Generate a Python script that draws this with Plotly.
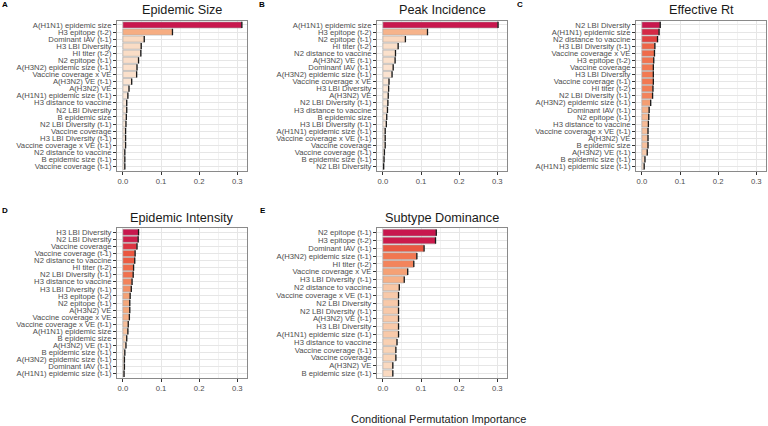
import plotly.graph_objects as go

# ---------------- data ----------------
a_names = ["A(H1N1) epidemic size", "H3 epitope (t-2)", "Dominant IAV (t-1)", "H3 LBI Diversity",
           "HI titer (t-2)", "N2 epitope (t-1)", "A(H3N2) epidemic size (t-1)", "Vaccine coverage x VE",
           "A(H3N2) VE (t-1)", "A(H3N2) VE", "A(H1N1) epidemic size (t-1)", "H3 distance to vaccine",
           "N2 LBI Diversity", "B epidemic size", "N2 LBI Diversity (t-1)", "Vaccine coverage",
           "H3 LBI Diversity (t-1)", "Vaccine coverage x VE (t-1)", "N2 distance to vaccine",
           "B epidemic size (t-1)", "Vaccine coverage (t-1)"]
a_vals = [0.312, 0.130, 0.056, 0.048, 0.047, 0.041, 0.037, 0.036, 0.023, 0.016, 0.013, 0.010,
          0.010, 0.009, 0.008, 0.007, 0.007, 0.007, 0.005, 0.005, 0.005]

b_names = ["A(H1N1) epidemic size", "H3 epitope (t-2)", "N2 epitope (t-1)", "HI titer (t-2)",
           "N2 distance to vaccine", "A(H3N2) VE (t-1)", "Dominant IAV (t-1)", "A(H3N2) epidemic size (t-1)",
           "Vaccine coverage x VE", "H3 LBI Diversity", "A(H3N2) VE", "N2 LBI Diversity (t-1)",
           "H3 distance to vaccine", "B epidemic size", "H3 LBI Diversity (t-1)", "A(H1N1) epidemic size (t-1)",
           "Vaccine coverage x VE (t-1)", "Vaccine coverage", "Vaccine coverage (t-1)",
           "B epidemic size (t-1)", "N2 LBI Diversity"]
b_vals = [0.302, 0.117, 0.059, 0.040, 0.033, 0.032, 0.027, 0.024, 0.016, 0.015, 0.014, 0.013,
          0.012, 0.010, 0.009, 0.006, 0.006, 0.006, 0.004, 0.003, 0.002]

c_names = ["N2 LBI Diversity", "A(H1N1) epidemic size", "N2 distance to vaccine", "H3 LBI Diversity (t-1)",
           "Vaccine coverage x VE", "H3 epitope (t-2)", "Vaccine coverage", "H3 LBI Diversity",
           "Vaccine coverage (t-1)", "HI titer (t-2)", "N2 LBI Diversity (t-1)", "A(H3N2) epidemic size (t-1)",
           "Dominant IAV (t-1)", "N2 epitope (t-1)", "H3 distance to vaccine", "Vaccine coverage x VE (t-1)",
           "A(H3N2) VE", "B epidemic size", "A(H3N2) VE (t-1)", "B epidemic size (t-1)",
           "A(H1N1) epidemic size (t-1)"]
c_vals = [0.048, 0.045, 0.041, 0.034, 0.033, 0.031, 0.030, 0.030, 0.030, 0.029, 0.028, 0.023,
          0.019, 0.018, 0.017, 0.016, 0.016, 0.016, 0.014, 0.008, 0.006]

d_names = ["H3 LBI Diversity", "N2 LBI Diversity", "Vaccine coverage", "Vaccine coverage (t-1)",
           "N2 distance to vaccine", "HI titer (t-2)", "N2 LBI Diversity (t-1)", "H3 distance to vaccine",
           "H3 LBI Diversity (t-1)", "H3 epitope (t-2)", "N2 epitope (t-1)", "A(H3N2) VE",
           "Vaccine coverage x VE", "Vaccine coverage x VE (t-1)", "A(H1N1) epidemic size", "B epidemic size",
           "A(H3N2) VE (t-1)", "B epidemic size (t-1)", "A(H3N2) epidemic size (t-1)", "Dominant IAV (t-1)",
           "A(H1N1) epidemic size (t-1)"]
d_vals = [0.041, 0.040, 0.037, 0.032, 0.031, 0.028, 0.027, 0.024, 0.022, 0.019, 0.018, 0.018,
          0.017, 0.014, 0.013, 0.010, 0.008, 0.005, 0.004, 0.004, 0.003]

e_names = ["N2 epitope (t-1)", "H3 epitope (t-2)", "Dominant IAV (t-1)", "A(H3N2) epidemic size (t-1)",
           "HI titer (t-2)", "Vaccine coverage x VE", "H3 LBI Diversity (t-1)", "N2 distance to vaccine",
           "Vaccine coverage x VE (t-1)", "N2 LBI Diversity", "N2 LBI Diversity (t-1)", "A(H3N2) VE (t-1)",
           "H3 LBI Diversity", "A(H1N1) epidemic size (t-1)", "H3 distance to vaccine", "Vaccine coverage (t-1)",
           "Vaccine coverage", "A(H3N2) VE", "B epidemic size (t-1)"]
e_vals = [0.140, 0.138, 0.108, 0.089, 0.081, 0.065, 0.056, 0.043, 0.041, 0.041, 0.041, 0.041,
          0.041, 0.041, 0.037, 0.034, 0.034, 0.026, 0.026]

titles = ["Epidemic Size", "Peak Incidence", "Effective Rt", "Epidemic Intensity", "Subtype Dominance"]
letters = ["A", "B", "C", "D", "E"]
x_ticks = [0.0, 0.1, 0.2, 0.3]
x_ticktext = ["0.0", "0.1", "0.2", "0.3"]
x_title = "Conditional Permutation Importance"

# ---------------- layout geometry (pixels) ----------------
W, H = 768, 426
panels = [
    (a_names, a_vals, (117, 247), (20.7, 170.7)),
    (b_names, b_vals, (377, 507), (20.7, 170.7)),
    (c_names, c_vals, (636, 766), (20.7, 170.7)),
    (d_names, d_vals, (117, 247), (228, 378)),
    (e_names, e_vals, (377, 507), (228, 378)),
]
letter_pos = [(5, 5), (262, 5), (520, 5), (5, 210), (263, 210)]

colorscale = [[0.0, "#FCEBDD"], [0.25, "#F9D3B6"], [0.45, "#F5A578"],
              [0.62, "#F27A53"], [0.8, "#E9523D"], [0.9, "#DC3542"], [1.0, "#C8174E"]]

FONT = "Liberation Sans, Arial, Helvetica, sans-serif"
LBL = 7.7
fig = go.Figure()

for i, (names, vals, (x0, x1), (ytop, ybot)) in enumerate(panels):
    k = "" if i == 0 else str(i + 1)
    xa, ya = "x" + k, "y" + k
    fig.add_trace(go.Bar(
        x=vals, y=names, orientation="h", xaxis=xa, yaxis=ya, width=0.86,
        marker=dict(color=vals, colorscale=colorscale, cmin=0, cmax=max(vals),
                    line=dict(color="#A8A8A8", width=0.6)),
        showlegend=False, hoverinfo="x+y"))
    fig.add_trace(go.Scatter(
        x=vals, y=names, xaxis=xa, yaxis=ya, mode="markers",
        marker=dict(symbol="line-ns", size=4.5, line=dict(color="#1A1A1A", width=1.3)),
        showlegend=False, hoverinfo="skip"))
    fig.layout["xaxis" + k] = dict(
        domain=[x0 / W, x1 / W], anchor=ya, range=[-0.0155, 0.3255],
        tickmode="array", tickvals=x_ticks, ticktext=x_ticktext, ticks="outside", ticklen=3,
        tickcolor="#333333", tickwidth=0.8,
        tickfont=dict(size=LBL, color="#4D4D4D", family=FONT),
        showgrid=True, gridcolor="#E6E6E6", gridwidth=0.6,
        minor=dict(tickvals=[0.05, 0.15, 0.25], showgrid=True, gridcolor="#F2F2F2", gridwidth=0.5),
        showline=True, mirror=True, linecolor="#8A8A8A", linewidth=1,
        zeroline=False, fixedrange=True)
    fig.layout["yaxis" + k] = dict(
        domain=[1 - ybot / H, 1 - ytop / H], anchor=xa,
        categoryorder="array", categoryarray=list(reversed(names)),
        tickmode="array", tickvals=names, ticktext=names,
        range=[-0.6, len(names) - 0.4],
        ticks="outside", ticklen=3, tickcolor="#333333", tickwidth=0.8,
        tickfont=dict(size=LBL, color="#4D4D4D", family=FONT),
        showgrid=True, gridcolor="#E6E6E6", gridwidth=0.6,
        showline=True, mirror=True, linecolor="#8A8A8A", linewidth=1,
        zeroline=False, fixedrange=True)
    # panel title
    fig.add_annotation(x=(x0 + x1) / 2 / W, y=1 - (ytop - 10.5) / H, xref="paper", yref="paper",
                       text=titles[i], showarrow=False, xanchor="center", yanchor="middle",
                       font=dict(size=12.7, color="#1A1A1A", family=FONT))
    lx, ly = letter_pos[i]
    fig.add_annotation(x=lx / W, y=1 - ly / H, xref="paper", yref="paper", text="<b>%s</b>" % letters[i],
                       showarrow=False, xanchor="center", yanchor="middle",
                       font=dict(size=8, color="#000000", family=FONT))

fig.add_annotation(x=438 / W, y=1 - 419 / H, xref="paper", yref="paper", text=x_title,
                   showarrow=False, xanchor="center", yanchor="middle",
                   font=dict(size=11, color="#1A1A1A", family=FONT))

fig.update_layout(width=W, height=H, margin=dict(l=0, r=0, t=0, b=0),
                  paper_bgcolor="white", plot_bgcolor="white", bargap=0.12)

fig.write_html("out.html", config={"displayModeBar": False},
               post_script="document.body.style.margin='0';document.body.style.padding='0';")
